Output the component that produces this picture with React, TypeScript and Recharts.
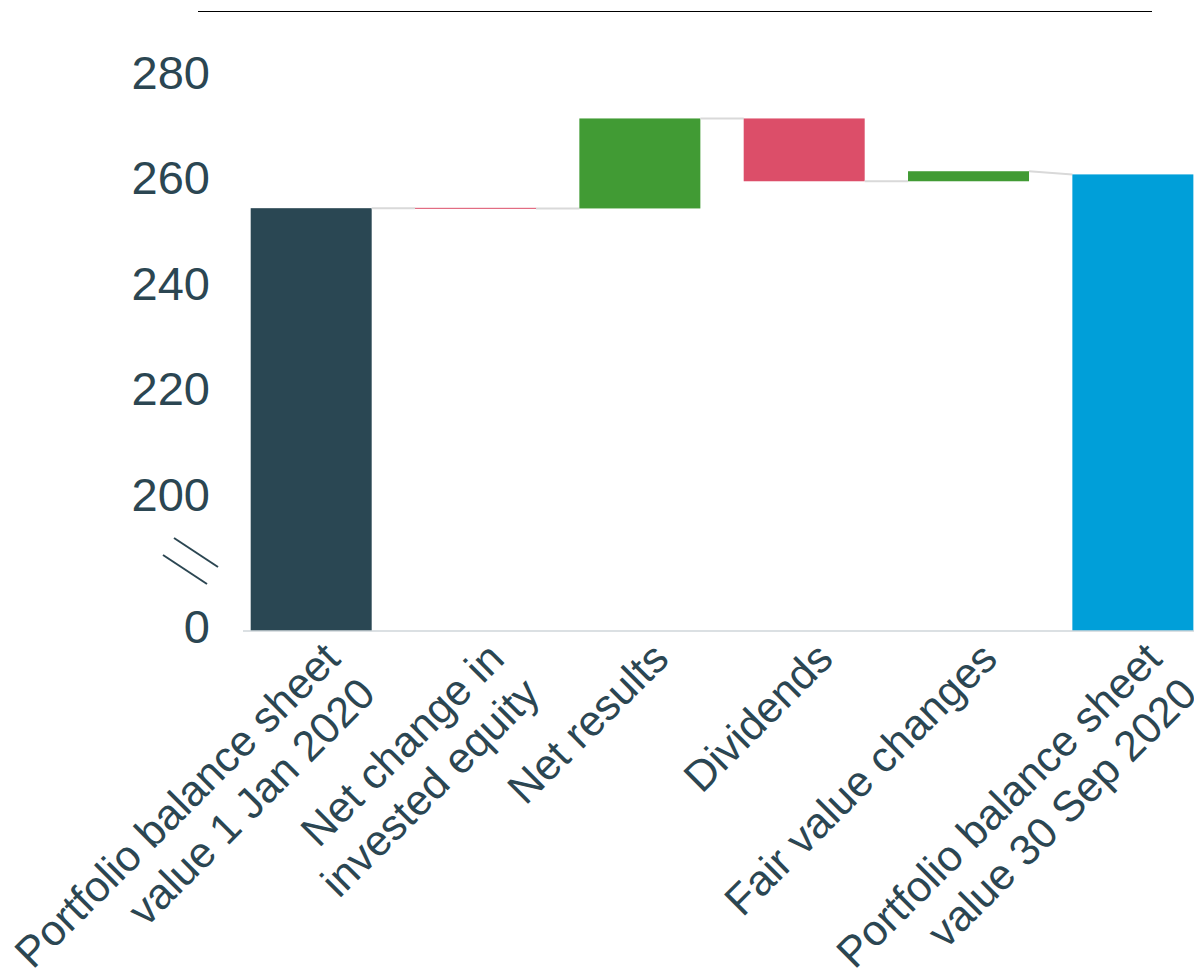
import { Bar, ComposedChart, XAxis, YAxis } from 'recharts'

const categories = [
  'Portfolio balance sheet\nvalue 1 Jan 2020',
  'Net change in\ninvested equity',
  'Net results',
  'Dividends',
  'Fair value changes',
  'Portfolio balance sheet\nvalue 30 Sep 2020',
]
const amounts = [254.2, -0.05, 17.05, -11.9, 1.9, 260.6]
const isTotal = [true, false, false, false, false, true]
const totalColors = ['#2a4753', '#009fd9']
const yTicks = [0, 200, 220, 240, 260, 280]

const UP = '#419b34'
const DOWN = '#dc4e69'
const TEXT = '#2b4652'
const CONNECTOR = '#d9d9d9'
const GAP = 0.132

// broken axis: 0..200 squeezed, 200..280 linear
const BREAK_AT = 200
const BREAK_SPAN = 25.9
const toDisplay = (v: number) =>
  v <= BREAK_AT ? (v / BREAK_AT) * BREAK_SPAN : BREAK_SPAN + (v - BREAK_AT)

let level = 0
let totalIdx = 0
const rows = categories.map((name, i) => {
  const start = isTotal[i] ? 0 : level
  const end = isTotal[i] ? amounts[i] : level + amounts[i]
  level = end
  const kind = isTotal[i] ? 'total' : amounts[i] < 0 ? 'down' : 'up'
  const color = isTotal[i] ? totalColors[totalIdx++] : kind === 'down' ? DOWN : UP
  return {
    name,
    range: [toDisplay(Math.min(start, end)), toDisplay(Math.max(start, end))],
    kind,
    color,
    dEnd: toDisplay(end),
  }
})
const data = rows.map((r, i) => ({
  ...r,
  dNext:
    i < rows.length - 1
      ? isTotal[i + 1]
        ? toDisplay(amounts[i + 1])
        : r.dEnd
      : null,
}))

function WaterfallShape(props: any) {
  const { x, y, width, height, payload } = props
  const [lo, hi] = payload.range
  const ppu = hi - lo > 0.5 ? height / (hi - lo) : 0
  const endY = payload.kind === 'down' ? y + height : y
  const gap = width / (1 - 2 * GAP) - width
  const thin = height < 1
  return (
    <g>
      <rect
        x={x}
        y={thin ? y + height / 2 - 0.5 : y}
        width={width}
        height={thin ? 1 : height}
        fill={payload.color}
      />
      {payload.dNext !== null && (
        <line
          x1={x + width}
          y1={endY}
          x2={x + width + gap}
          y2={endY - (payload.dNext - payload.dEnd) * ppu}
          stroke={CONNECTOR}
          strokeWidth={2}
        />
      )}
    </g>
  )
}

function YTick({ x, y, payload }: any) {
  const raw = yTicks.find(t => Math.abs(toDisplay(t) - payload.value) < 1e-6) ?? 0
  return (
    <g>
      <text
        x={x}
        y={raw === 0 ? y - 5 : y}
        dy="0.355em"
        textAnchor="end"
        fontSize={47}
        fill={TEXT}
        fontFamily="'Liberation Sans', Arial, sans-serif"
      >
        {raw}
      </text>
      {raw === 0 && (
        <g stroke={TEXT} strokeWidth={2}>
          <line x1={x - 36} y1={y - 93} x2={x + 8} y2={y - 64} />
          <line x1={x - 47} y1={y - 76} x2={x - 3} y2={y - 47} />
        </g>
      )}
    </g>
  )
}

function XTick({ x, y, payload }: any) {
  const lines = String(payload.value).split('\n')
  return (
    <g transform={`translate(${x + 31},${y + 30})`}>
      <text
        transform="rotate(-45)"
        textAnchor="end"
        fontSize={43}
        fill={TEXT}
        fontFamily="'Liberation Sans', Arial, sans-serif"
      >
        {lines.map((l, i) => (
          <tspan key={i} x={0} dy={i === 0 ? 0 : 50}>
            {l}
          </tspan>
        ))}
      </text>
    </g>
  )
}

export default function App() {
  return (
    <div
      style={{
        position: 'fixed',
        left: 0,
        top: 0,
        width: 1194,
        height: 974,
        overflow: 'hidden',
        background: '#fff',
      }}
    >
      <div
        style={{
          position: 'absolute',
          left: 198,
          top: 11,
          width: 954,
          borderTop: '1.5px solid #000',
        }}
      />
      <div style={{ position: 'absolute', left: 8, top: 8 }}>
        <ComposedChart
          width={1220}
          height={966}
          data={data}
          margin={{ top: 64, right: 13, left: 0, bottom: 0 }}
          barCategoryGap={`${GAP * 100}%`}
        >
          <XAxis
            dataKey="name"
            interval={0}
            tickLine={false}
            tickSize={0}
            tickMargin={0}
            axisLine={{ stroke: '#cfd6da', strokeWidth: 1.5 }}
            padding={{ left: -14, right: 0 }}
            height={343}
            tick={<XTick />}
          />
          <YAxis
            type="number"
            domain={[0, toDisplay(280)]}
            ticks={yTicks.map(toDisplay)}
            allowDataOverflow
            axisLine={false}
            tickLine={false}
            tickSize={0}
            tickMargin={33}
            width={235}
            tick={<YTick />}
          />
          <Bar dataKey="range" isAnimationActive={false} shape={<WaterfallShape />} />
        </ComposedChart>
      </div>
    </div>
  )
}
